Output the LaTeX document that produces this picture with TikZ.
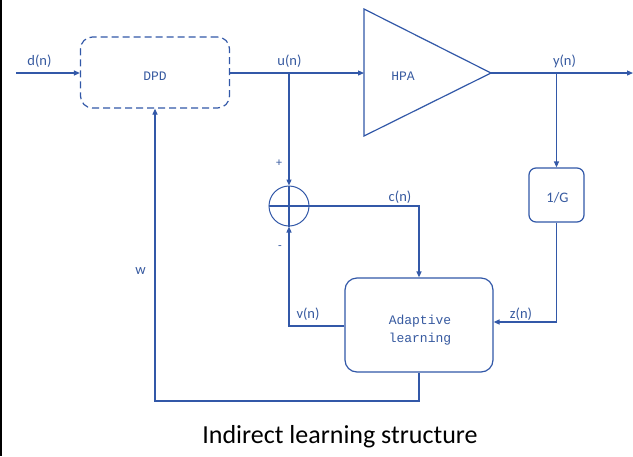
\documentclass[tikz,border=0pt]{standalone}
\usepackage{fontspec}
\setmainfont{Carlito}
\newfontfamily\monof{Liberation Mono}
\usetikzlibrary{arrows.meta,shapes.geometric}
\definecolor{ln}{RGB}{50,88,168}
\definecolor{tx}{RGB}{55,90,160}
\tikzset{
  wire/.style={draw=ln, line width=1.2pt},
  arr/.style={wire, -{Triangle[length=6pt,width=5pt]}},
  lbl/.style={text=tx, font=\fontsize{14.5}{16}\selectfont, inner sep=0pt},
  mlbl/.style={text=tx, font=\monof\fontsize{13}{18}\selectfont, inner sep=0pt},
  box/.style={draw=ln, line width=1.2pt, rounded corners=12pt, inner sep=0pt},
}
\begin{document}
\begin{tikzpicture}[x=1pt,y=-1pt]
\useasboundingbox (0,0) rectangle (633,456);
\fill[white] (0,0) rectangle (633,456);
\draw[black, line width=1.5pt] (0.75,0) -- (0.75,456);
% blocks
\node[box, dashed, dash pattern=on 7pt off 4pt, minimum width=149pt, minimum height=71pt] (dpd) at (155,72.5) {};
\node[mlbl] at (155,76) {DPD};
\coordinate (hpaL) at (364,73);
\draw[wire, line join=miter] (364,9) -- (491,73) -- (364,136) -- cycle;
\coordinate (hpaR) at (491,73);
\node[mlbl] (hpa) at (403,76) {HPA};
\node[box, rounded corners=7pt, minimum width=55pt, minimum height=54pt] (g) at (556.5,195) {};
\node[lbl] at (557.5,198) {1/G};
\node[box, minimum width=148pt, minimum height=94pt] (ad) at (419,325) {};
\node[mlbl, align=center] at (420,330) {Adaptive\\learning};
\node[draw=ln, line width=1pt, circle, minimum size=40pt, inner sep=0pt] (sum) at (289,206) {};
\draw[ln, line width=1.8pt] (sum.north) -- (sum.south) (sum.west) -- (sum.east);
% connectors
\coordinate (din) at (16,73);
\draw[arr] (din) -- (dpd.west |- din);
\draw[arr] (dpd.east |- hpaL) -- (hpaL);
\coordinate (out) at (633,73);
\draw[arr] (hpaR) -- (out);
\coordinate (ub) at (289,73);
\draw[arr] (ub) -- (sum.north);
\coordinate (yb) at (556.5,73);
\draw[arr] (yb) -- (g.north);
\draw[arr] (g.south) -- (556.5,322) -- (ad.east |- 0,322);
\draw[arr] (sum.east) -- (419,206) -- (ad.north);
\draw[arr] (ad.west |- 0,326) -- (289,326) -- (sum.south);
\draw[arr] (ad.south) -- (419,401) -- (155,401) -- (dpd.south);
% labels
\node[lbl] at (39.5,61) {d(n)};
\node[lbl] at (289.5,61) {u(n)};
\node[lbl] at (564.5,61) {y(n)};
\node[lbl, font=\fontsize{12}{14}\selectfont] at (279,163) {+};
\node[lbl, font=\fontsize{12}{14}\selectfont] at (280,248) {-};
\node[lbl] at (400,197) {c(n)};
\node[lbl] at (308,314) {v(n)};
\node[lbl] at (521,314) {z(n)};
\node[lbl] at (140.5,271) {w};
\node[font=\fontsize{26}{30}\selectfont] at (340,437) {Indirect learning structure};
\end{tikzpicture}
\end{document}
